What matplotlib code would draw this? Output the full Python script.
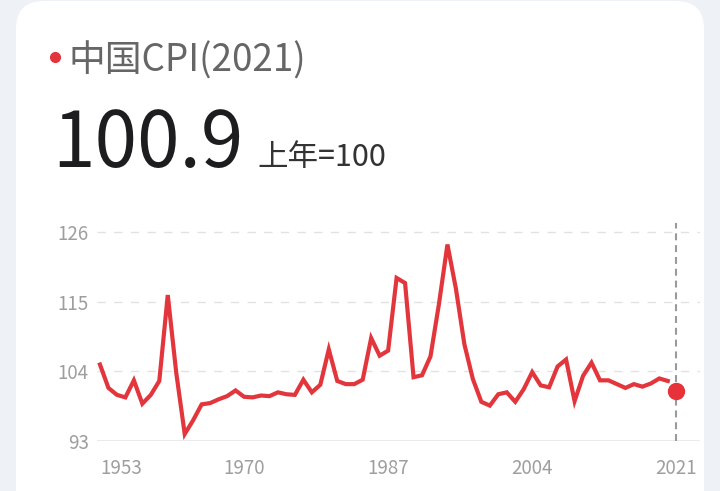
import matplotlib
matplotlib.use('Agg')
import matplotlib.pyplot as plt
from matplotlib.patches import FancyBboxPatch

plt.rcParams['font.family'] = ['Noto Sans CJK SC', 'DejaVu Sans']
plt.rcParams['lines.scale_dashes'] = False

# CPI, previous year = 100
years = list(range(1953, 2021))
cpi = [105.1, 101.4, 100.3, 99.9, 102.6, 98.9, 100.3, 102.5, 116.1, 103.8,
       94.1, 96.3, 98.8, 99.0, 99.6, 100.1, 101.0, 100.0, 99.9, 100.2,
       100.1, 100.7, 100.4, 100.3, 102.7, 100.7, 101.9, 107.5, 102.5, 102.0,
       102.0, 102.7, 109.3, 106.5, 107.3, 118.8, 118.0, 103.1, 103.4, 106.4,
       114.7, 124.1, 117.1, 108.3, 102.8, 99.2, 98.6, 100.4, 100.7, 99.2,
       101.2, 103.9, 101.8, 101.5, 104.8, 105.9, 99.3, 103.3, 105.4, 102.6,
       102.6, 102.0, 101.4, 102.0, 101.6, 102.1, 102.9, 102.5]
last_year = 2021
last_value = 100.9

x_ticks = [1953, 1970, 1987, 2004, 2021]
y_ticks = [93, 104, 115, 126]

title = '中国CPI(2021)'
value_text = '100.9'
unit_text = '上年=100'

RED = '#e2363c'
W, H = 720, 491


def main():
    fig = plt.figure(figsize=(W / 100, H / 100), dpi=100)
    fig.patch.set_facecolor('#eef1f6')

    # background card + header texts in pixel coords
    bg = fig.add_axes([0, 0, 1, 1], zorder=0)
    bg.set_xlim(0, W)
    bg.set_ylim(H, 0)
    bg.axis('off')
    bg.add_patch(FancyBboxPatch((16, 1), 688, 540,
                                boxstyle='round,pad=0,rounding_size=28',
                                fc='white', ec='none'))
    bg.plot([55], [57], 'o', ms=7, color=RED)
    bg.text(69, 61, title, fontsize=26.5, color='#666666', va='center', ha='left')
    bg.text(52, 167, value_text, fontsize=55, color='#1d1d1f', va='baseline', ha='left')
    bg.text(257, 166, unit_text, fontsize=22, color='#333333', va='baseline', ha='left')

    ax = fig.add_axes([97 / W, 1 - 441 / H, 603 / W, 218 / H], zorder=1)
    ax.patch.set_alpha(0)
    ax.plot(years, cpi, color=RED, lw=3, solid_joinstyle='miter', zorder=3)
    ax.plot([last_year], [last_value], 'o', ms=11.5, color='#e8323a', zorder=4)

    ax.set_xlim(1952.65, 2023.8)
    ax.set_ylim(93, 127.5)

    for v in y_ticks[1:]:
        ax.axhline(v, color='#e2e2e2', lw=1, dashes=(6, 6), zorder=1)
    ax.axhline(y_ticks[0], color='#e6e6e6', lw=1.2, zorder=1)
    ax.axvline(last_year, color='#9a9a9a', lw=1.5, dashes=(5, 3.5), zorder=2)

    for s in ax.spines.values():
        s.set_visible(False)

    ax.set_yticks(y_ticks)
    ax.set_xticks(x_ticks)
    ax.set_xticklabels([str(t) for t in x_ticks])
    ax.tick_params(axis='y', length=0, pad=6, labelsize=13.5, labelcolor='#9e9e9e')
    ax.tick_params(axis='x', length=0, pad=12, labelsize=13.5, labelcolor='#9e9e9e')
    ax.get_xticklabels()[0].set_ha('left')

    fig.savefig('out.png', dpi=100, facecolor=fig.get_facecolor())


if __name__ == '__main__':
    main()
